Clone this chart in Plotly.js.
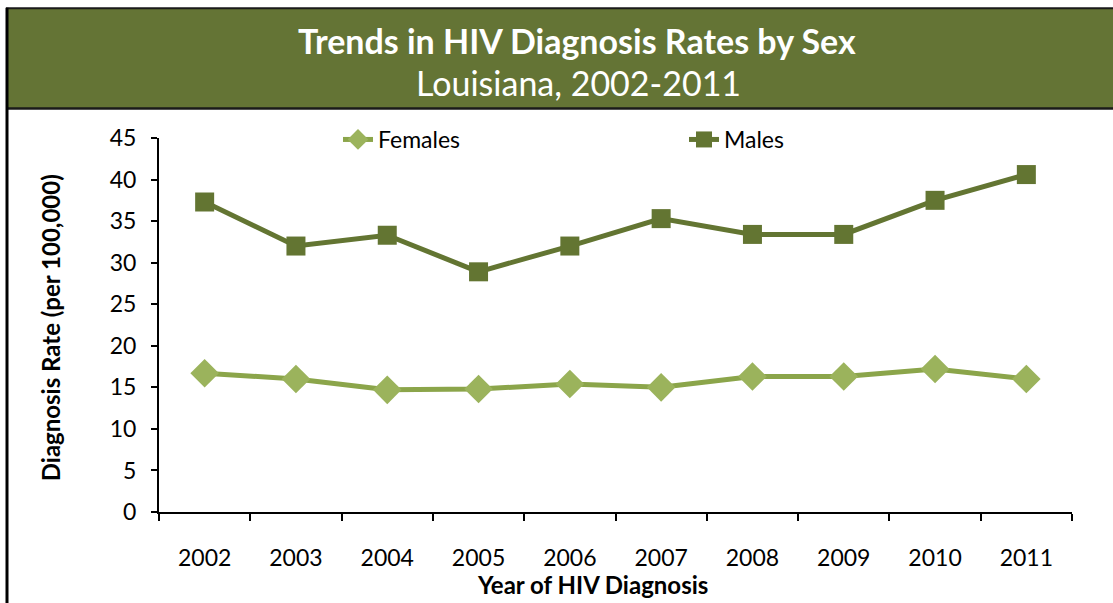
<!DOCTYPE html>
<html>
<head>
<meta charset="utf-8">
<script src="https://cdn.plot.ly/plotly-3.0.1.min.js"></script>
<style>
  html, body { margin: 0; padding: 0; background: #ffffff; overflow: hidden; }
  #chart { width: 1113px; height: 603px; }
</style>
</head>
<body>
<div id="chart"></div>
<script>
// HIV diagnosis rates per 100,000 by sex, Louisiana
const years = ['2002', '2003', '2004', '2005', '2006', '2007', '2008', '2009', '2010', '2011'];
const females = [16.7, 16.0, 14.7, 14.8, 15.4, 15.0, 16.3, 16.3, 17.2, 16.0];
const males = [37.3, 32.0, 33.3, 28.9, 32.0, 35.3, 33.4, 33.4, 37.5, 40.6];
const yTicks = [0, 5, 10, 15, 20, 25, 30, 35, 40, 45];

const FONT = 'Lato, "Open Sans", sans-serif';
const BANNER = '#647435';
const DARK = '#637532';
const LIGHT_LINE = '#8ba54a';
const LIGHT_MARK = '#9bb35c';

// plot area in pixels
const L = 159, R = 1072, T = 137.5, B = 512;
const W = 1113, H = 603;
const px = x => (x - L) / (R - L);
const py = y => (B - y) / (B - T);

const traces = [
  {
    x: years, y: females, name: 'Females', type: 'scatter', mode: 'lines+markers',
    line: { color: LIGHT_LINE, width: 5 },
    marker: { symbol: 'diamond', size: 22, color: LIGHT_MARK }
  },
  {
    x: years, y: males, name: 'Males', type: 'scatter', mode: 'lines+markers',
    line: { color: DARK, width: 5 },
    marker: { symbol: 'square', size: 19, color: DARK }
  }
];

const layout = {
  width: W, height: H,
  margin: { l: L, r: W - R, t: T, b: H - B, pad: 0, autoexpand: false },
  paper_bgcolor: '#ffffff', plot_bgcolor: '#ffffff',
  font: { family: FONT, size: 22, color: '#000000' },
  showlegend: true,
  legend: {
    orientation: 'h', x: px(338), y: py(139), xanchor: 'left', yanchor: 'middle',
    entrywidth: 301, entrywidthmode: 'pixels',
    font: { family: FONT, size: 23, color: '#000000' },
    bgcolor: 'rgba(0,0,0,0)', itemsizing: 'trace'
  },
  xaxis: {
    type: 'category', tickson: 'boundaries',
    showline: true, linecolor: '#000000', linewidth: 2,
    ticks: 'outside', ticklen: 7, tickwidth: 2, tickcolor: '#000000',
    showgrid: false, zeroline: false,
    ticklabelstandoff: 24,
    tickfont: { family: FONT, size: 23, color: '#000000' },
    range: [-0.5, 9.5], fixedrange: true
  },
  yaxis: {
    range: [0, 45], tickvals: yTicks, ticktext: yTicks.map(String),
    showline: true, linecolor: '#000000', linewidth: 2,
    ticks: 'outside', ticklen: 6, tickwidth: 2, tickcolor: '#000000',
    showgrid: false, zeroline: false,
    ticklabelstandoff: 10,
    tickfont: { family: FONT, size: 23, color: '#000000' },
    fixedrange: true
  },
  shapes: [
    // header banner
    { type: 'rect', xref: 'paper', yref: 'paper',
      x0: px(7), x1: px(1114), y0: py(108), y1: py(8),
      fillcolor: BANNER, line: { width: 0 }, layer: 'below' },
    // banner top and bottom rules
    { type: 'line', xref: 'paper', yref: 'paper',
      x0: px(6), x1: px(1114), y0: py(7.5), y1: py(7.5),
      line: { color: '#1a1a1a', width: 2 } },
    { type: 'line', xref: 'paper', yref: 'paper',
      x0: px(6), x1: px(1114), y0: py(108), y1: py(108),
      line: { color: '#1a1a1a', width: 2.5 } },
    // left frame edge
    { type: 'line', xref: 'paper', yref: 'paper',
      x0: px(7), x1: px(7), y0: py(7), y1: py(604),
      line: { color: '#000000', width: 3 } }
  ],
  annotations: [
    { text: '<b>Trends in HIV Diagnosis Rates by Sex</b>', xref: 'paper', yref: 'paper',
      x: px(577), y: py(40), xanchor: 'center', yanchor: 'middle', showarrow: false,
      font: { family: FONT, size: 34, color: '#ffffff' } },
    { text: 'Louisiana, 2002-2011', xref: 'paper', yref: 'paper',
      x: px(578), y: py(82), xanchor: 'center', yanchor: 'middle', showarrow: false,
      font: { family: FONT, size: 34, color: '#ffffff' } },
    { text: '<b>Year of HIV Diagnosis</b>', xref: 'paper', yref: 'paper',
      x: px(592), y: py(585), xanchor: 'center', yanchor: 'middle', showarrow: false,
      font: { family: FONT, size: 24, color: '#000000' } },
    { text: '<b>Diagnosis Rate (per 100,000)</b>', xref: 'paper', yref: 'paper',
      x: px(50), y: py(328), xanchor: 'center', yanchor: 'middle', showarrow: false,
      textangle: -90,
      font: { family: FONT, size: 24, color: '#000000' } }
  ]
};

Plotly.newPlot('chart', traces, layout, { displayModeBar: false, staticPlot: true });
</script>
</body>
</html>
